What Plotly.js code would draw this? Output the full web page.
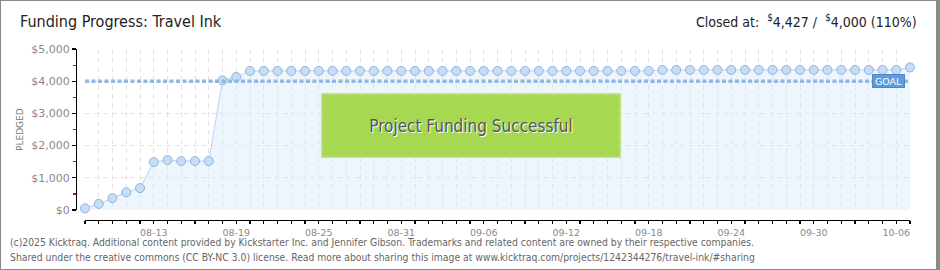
<!DOCTYPE html>
<html>
<head>
<meta charset="utf-8">
<script src="https://cdn.plot.ly/plotly-3.0.1.min.js"></script>
<style>
  html, body { margin: 0; padding: 0; background: #fff; }
  #wrap { position: relative; width: 940px; height: 270px; }
  #chart { width: 940px; height: 270px; }
  #frame { position: absolute; left: 0; top: 0; width: 940px; height: 270px; box-sizing: border-box;
           border: 1px solid #8a8a8a; border-right-width: 4px; pointer-events: none; }
</style>
</head>
<body>
<div id="wrap"><div id="chart"></div><div id="frame"></div></div>
<script>
// ---- data ----
const dates = [
  '2025-08-08','2025-08-09','2025-08-10','2025-08-11','2025-08-12','2025-08-13','2025-08-14','2025-08-15',
  '2025-08-16','2025-08-17','2025-08-18','2025-08-19','2025-08-20','2025-08-21','2025-08-22','2025-08-23',
  '2025-08-24','2025-08-25','2025-08-26','2025-08-27','2025-08-28','2025-08-29','2025-08-30','2025-08-31',
  '2025-09-01','2025-09-02','2025-09-03','2025-09-04','2025-09-05','2025-09-06','2025-09-07','2025-09-08',
  '2025-09-09','2025-09-10','2025-09-11','2025-09-12','2025-09-13','2025-09-14','2025-09-15','2025-09-16',
  '2025-09-17','2025-09-18','2025-09-19','2025-09-20','2025-09-21','2025-09-22','2025-09-23','2025-09-24',
  '2025-09-25','2025-09-26','2025-09-27','2025-09-28','2025-09-29','2025-09-30','2025-10-01','2025-10-02',
  '2025-10-03','2025-10-04','2025-10-05','2025-10-06','2025-10-07'
];
const pledged = [
  50, 190, 370, 550, 680, 1490, 1550, 1520,
  1520, 1520, 4030, 4130, 4320, 4320, 4320, 4320,
  4320, 4320, 4320, 4320, 4320, 4320, 4320, 4320,
  4320, 4320, 4320, 4320, 4320, 4320, 4320, 4320,
  4320, 4320, 4320, 4320, 4320, 4320, 4320, 4320,
  4320, 4320, 4350, 4350, 4350, 4350, 4350, 4350,
  4350, 4350, 4350, 4350, 4350, 4350, 4350, 4350,
  4350, 4350, 4350, 4350, 4427
];
const goalValue = 4000;
const goalDates = ['2025-08-08', '2025-10-07'];
const goalValues = [4000, 4000];
const yTickVals = [0, 1000, 2000, 3000, 4000, 5000];
const yTickText = ['$0', '$1,000', '$2,000', '$3,000', '$4,000', '$5,000'];
const titleText = 'Funding Progress: Travel Ink';
const closedText = 'Closed at:  <sup>$</sup>4,427 /  <sup>$</sup>4,000 (110%)';
const bannerText = 'Project Funding Successful';
const footer1 = '(c)2025 Kicktraq. Additional content provided by Kickstarter Inc. and Jennifer Gibson. Trademarks and related content are owned by their respective companies.';
const footer2 = 'Shared under the creative commons (CC BY-NC 3.0) license. Read more about sharing this image at www.kicktraq.com/projects/1242344276/travel-ink/#sharing';

// ---- layout helpers (pixel -> paper) ----
const L = 76, R = 30, T = 49, B = 50, W = 940, H = 270;
const pw = W - L - R, ph = H - T - B;
const px = x => (x - L) / pw;
const py = y => (H - B - y) / ph;
const DAY = 86400000;
const techFont = 'DejaVu Sans Condensed, DejaVu Sans, sans-serif';
const gridCol = '#e2e2e2';

const traces = [
  {
    x: dates, y: pledged, type: 'scatter', mode: 'lines+markers',
    fill: 'tozeroy', fillcolor: 'rgba(215,232,250,0.45)',
    line: { color: '#b9d4f2', width: 1 },
    marker: { size: 9, color: '#c6ddf8', line: { color: '#93b2d8', width: 1 } },
    cliponaxis: false, hoverinfo: 'skip', showlegend: false
  },
  {
    x: goalDates, y: goalValues, type: 'scatter', mode: 'lines',
    line: { color: '#94b8e4', width: 3.5, dash: '4px,2.5px' },
    hoverinfo: 'skip', showlegend: false
  }
];

const layout = {
  width: W, height: H,
  margin: { l: L, r: R, t: T, b: B, pad: 0 },
  paper_bgcolor: '#fff', plot_bgcolor: '#fff',
  showlegend: false,
  title: {
    text: titleText, xref: 'container', yref: 'container',
    x: 20 / W, xanchor: 'left', y: 1 - 21 / H, yanchor: 'middle',
    font: { family: techFont, size: 16, color: '#222' }
  },
  xaxis: {
    type: 'date', range: [dates[0], dates[dates.length - 1]],
    domain: [9 / pw, 1], anchor: 'free', position: 0,
    tickformat: '%m-%d', tick0: '2025-08-13', dtick: 6 * DAY,
    ticks: 'outside', ticklen: 3, tickcolor: '#000', tickwidth: 1.2,
    showline: true, linecolor: '#000', linewidth: 1.2,
    showgrid: true, gridcolor: gridCol, griddash: '5px,4px', gridwidth: 1,
    zeroline: false,
    tickfont: { family: 'DejaVu Sans, sans-serif', size: 9.5, color: '#8a8a8a' },
    minor: { tick0: dates[0], dtick: DAY, ticks: 'outside', ticklen: 3, tickcolor: '#000', tickwidth: 1.2,
             showgrid: true, gridcolor: gridCol, griddash: '5px,4px', gridwidth: 1 }
  },
  yaxis: {
    range: [0, 5000], domain: [10 / ph, 1], anchor: 'free', position: 0,
    tickmode: 'array', tickvals: yTickVals, ticktext: yTickText,
    ticks: 'outside', ticklen: 4, tickcolor: '#000', tickwidth: 1.2,
    showline: true, linecolor: '#000', linewidth: 1.2,
    showgrid: true, gridcolor: gridCol, griddash: '5px,4px', gridwidth: 1,
    zeroline: false,
    tickfont: { family: 'DejaVu Sans, sans-serif', size: 11, color: '#8a8a8a' },
    minor: { tickmode: 'linear', tick0: 0, dtick: 500, ticks: 'outside', ticklen: 3, tickcolor: '#e00000', showgrid: false }
  },
  annotations: [
    {
      text: closedText, xref: 'paper', yref: 'paper', x: px(919), y: py(21),
      xanchor: 'right', yanchor: 'middle', showarrow: false,
      font: { family: techFont, size: 14, color: '#222' }
    },
    {
      text: 'PLEDGED', xref: 'paper', yref: 'paper', x: px(20), y: py(130),
      xanchor: 'center', yanchor: 'middle', textangle: -90, showarrow: false,
      font: { family: 'DejaVu Sans, sans-serif', size: 9, color: '#777' }
    },
    {
      text: bannerText, xref: 'paper', yref: 'paper', x: px(470.5), y: py(125),
      xanchor: 'center', yanchor: 'middle', showarrow: false,
      width: 297, height: 62, bgcolor: '#a6d851', bordercolor: '#bfe585', borderwidth: 1.5, borderpad: 0,
      font: { family: techFont, size: 17, color: '#575757', shadow: '1px 1px 0px #ffffff' }
    },
    {
      text: 'GOAL', xref: 'paper', yref: 'y', x: px(888), y: goalValue,
      xanchor: 'center', yanchor: 'middle', showarrow: false,
      width: 31, height: 12, bgcolor: '#5c9cdc', bordercolor: '#4a88c8', borderwidth: 1, borderpad: 0,
      font: { family: 'DejaVu Sans, sans-serif', size: 9.5, color: '#fff' }
    },
    {
      text: footer1, xref: 'paper', yref: 'paper', x: px(8), y: py(242),
      xanchor: 'left', yanchor: 'middle', showarrow: false,
      font: { family: 'DejaVu Sans Condensed, sans-serif', size: 10.3, color: '#666' }
    },
    {
      text: footer2, xref: 'paper', yref: 'paper', x: px(8), y: py(257),
      xanchor: 'left', yanchor: 'middle', showarrow: false,
      font: { family: 'DejaVu Sans Condensed, sans-serif', size: 10.3, color: '#666' }
    }
  ]
};

Plotly.newPlot('chart', traces, layout, { staticPlot: true, displayModeBar: false });
</script>
</body>
</html>
